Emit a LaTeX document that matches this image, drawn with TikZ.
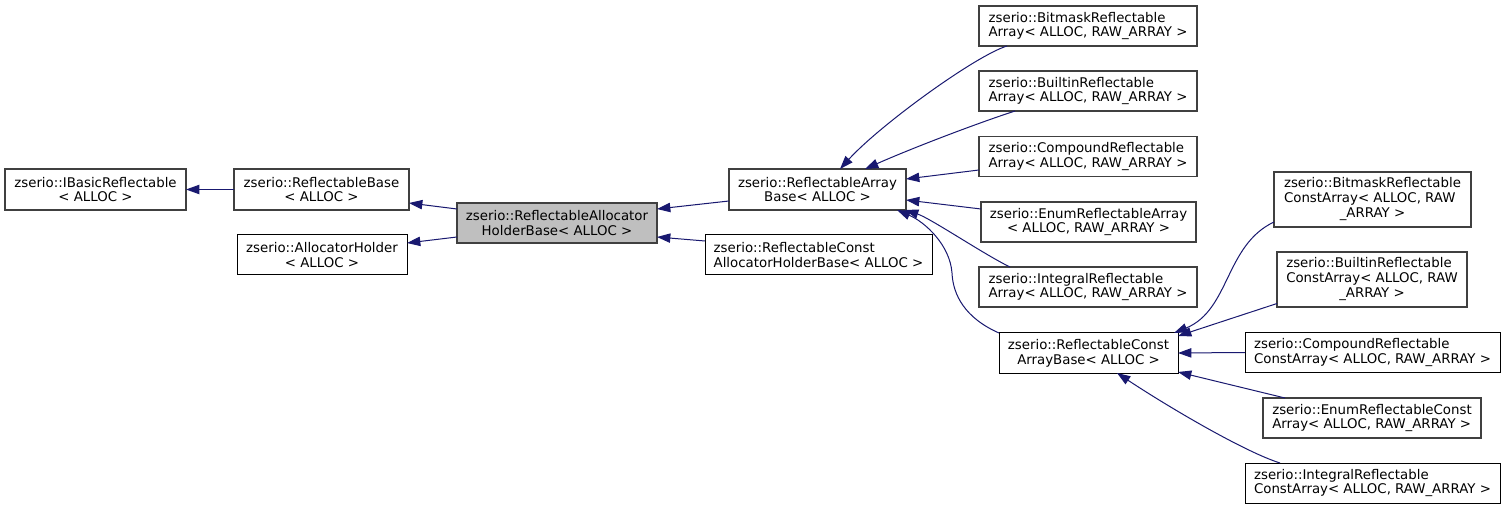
\documentclass[tikz,border=0pt]{standalone}
\usepackage{fontspec}
\setmainfont{DejaVu Sans}
\usetikzlibrary{arrows.meta,calc}
\definecolor{edgeblue}{HTML}{191970}
\definecolor{boxgray}{HTML}{404040}
\definecolor{fillgray}{HTML}{BFBFBF}
\begin{document}
\begin{tikzpicture}[x=0.75pt,y=-0.75pt,
  cls/.style={draw=boxgray, line width=1pt, fill=white, inner sep=0pt, outer sep=0pt,
    font=\fontsize{10}{11}\selectfont, text=black, align=center},
  blk/.style={cls, draw=black, line width=0.75pt},
  lft/.style={align=left},
  cur/.style={fill=fillgray},
  box/.style 2 args={minimum width=#1*0.75pt, minimum height=#2*0.75pt},
  edge/.style={draw=edgeblue, line width=0.75pt, -{Triangle[length=10pt,width=7pt]}}]
\useasboundingbox (0,0) rectangle (1505,509);
\fill[white] (0,0) rectangle (1505,509);

% nodes
\node[cls, box={181}{41}] (ibr) at (95.5,189.5) {zserio::IBasicReflectable\\< ALLOC >};
\node[cls, box={175}{41}] (rb) at (321.5,189.5) {zserio::ReflectableBase\\< ALLOC >};
\node[blk, box={170}{40}] (ah) at (322,255) {zserio::AllocatorHolder\\< ALLOC >};
\node[cls, cur, box={200}{40}] (rahb) at (557,223) {zserio::ReflectableAllocator\\HolderBase< ALLOC >};
\node[cls, box={177}{41}] (rab) at (817.5,189.5) {zserio::ReflectableArray\\Base< ALLOC >};
\node[blk, lft, box={227}{40}] (rcahb) at (818.5,255) {zserio::ReflectableConst\\AllocatorHolderBase< ALLOC >};
\node[cls, lft, box={218}{40}] (bma) at (1088,26) {zserio::BitmaskReflectable\\Array< ALLOC, RAW\_ARRAY >};
\node[cls, lft, box={218}{40}] (bia) at (1088,91) {zserio::BuiltinReflectable\\Array< ALLOC, RAW\_ARRAY >};
\node[cls, lft, box={218}{40}] (cpa) at (1088,156.5) {zserio::CompoundReflectable\\Array< ALLOC, RAW\_ARRAY >};
\node[cls, box={215}{40}] (ena) at (1088.5,222) {zserio::EnumReflectableArray\\< ALLOC, RAW\_ARRAY >};
\node[cls, lft, box={218}{40}] (ina) at (1088,287) {zserio::IntegralReflectable\\Array< ALLOC, RAW\_ARRAY >};
\node[blk, box={179}{40}] (rcab) at (1088.5,353) {zserio::ReflectableConst\\ArrayBase< ALLOC >};
\node[cls, box={197}{55}] (bmc) at (1372.5,199.5) {\begin{tabular}{@{}l@{}}zserio::BitmaskReflectable\\ConstArray< ALLOC, RAW\\\multicolumn{1}{@{}c@{}}{\_ARRAY >}\end{tabular}};
\node[cls, box={190}{55}] (bic) at (1372,279.5) {\begin{tabular}{@{}l@{}}zserio::BuiltinReflectable\\ConstArray< ALLOC, RAW\\\multicolumn{1}{@{}c@{}}{\_ARRAY >}\end{tabular}};
\node[blk, lft, box={255}{40}] (cpc) at (1372.5,352.5) {zserio::CompoundReflectable\\ConstArray< ALLOC, RAW\_ARRAY >};
\node[cls, lft, box={218}{40}] (enc) at (1372,418) {zserio::EnumReflectableConst\\Array< ALLOC, RAW\_ARRAY >};
\node[blk, lft, box={255}{40}] (inc) at (1372.5,483) {zserio::IntegralReflectable\\ConstArray< ALLOC, RAW\_ARRAY >};

% edges
\draw[edge] (rb.west) -- (ibr.east);
\draw[edge] ($(rahb.west)+(0,-14)$) -- ($(rb.east)+(0,13.5)$);
\draw[edge] ($(rahb.west)+(0,14)$) -- ($(ah.east)+(0,-12)$);
\draw[edge] ($(rab.west)+(0,11.5)$) -- ($(rahb.east)+(0,-14)$);
\draw[edge] ($(rcahb.west)+(0,-14)$) -- ($(rahb.east)+(0,14)$);

\draw[edge] ($(bma.south west)+(28,0)$) .. controls +(-32,10) and +(40,-44) .. ($(rab.north west)+(111,0)$);
\draw[edge] ($(bia.south west)+(36,0)$) .. controls +(-40,13) and +(45,-20) .. ($(rab.north west)+(136,0)$);
\draw[edge] ($(cpa.west)+(0,13.5)$) -- ($(rab.east)+(0,-10.5)$);
\draw[edge] ($(ena.west)+(0,-13)$) -- ($(rab.east)+(0,10.5)$);
\draw[edge] ($(ina.north west)+(31,0)$) .. controls +(-25,-12) and +(25,8) .. ($(rab.south east)+(-1,0)$);
\coordinate (m1) at ($(rcab.north west)+(-47,-60)$);
\draw[edge] (rcab.north west) .. controls +(-34,-15) and +(1,22) .. (m1)
  .. controls +(-2,-28) and +(28,12) .. ($(rab.south east)+(-9,0)$);

\draw[edge] ($(bmc.west)+(0,22.5)$) .. controls +(-49,23) and +(56,-23) .. ($(rcab.north east)+(-4,0)$);
\draw[edge] ($(bic.west)+(0,24)$) -- ($(rcab.north east)+(0,3)$);
\draw[edge] (cpc.west) -- (rcab.east);
\draw[edge] ($(enc.north west)+(22,0)$) -- ($(rcab.south east)+(0,-1)$);
\draw[edge] ($(inc.north west)+(35,0)$) .. controls +(-35,-11) and +(53,35) .. ($(rcab.south west)+(118,0)$);
\end{tikzpicture}
\end{document}
